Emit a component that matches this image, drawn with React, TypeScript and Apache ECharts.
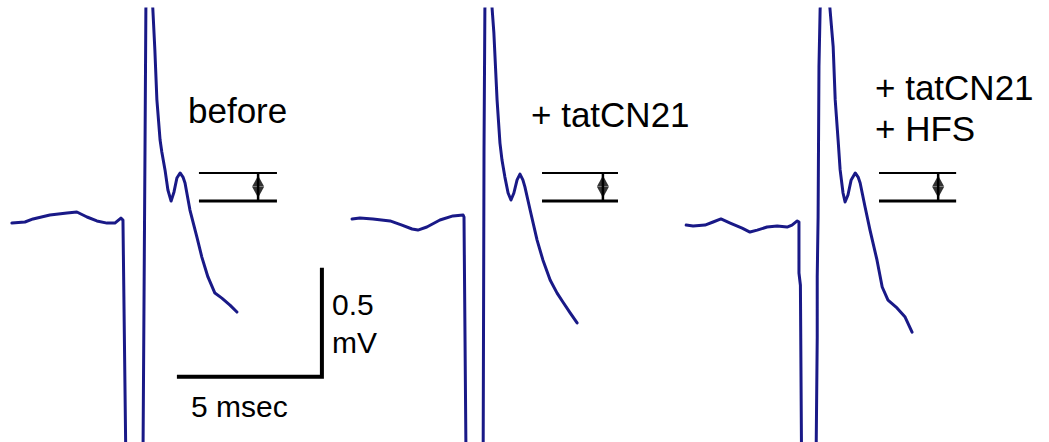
import React, { useEffect, useRef } from "react";
import * as echarts from "echarts";

// time of the stimulus artifact of each panel on the shared time axis (msec)
const STIM_MS = [4.24, 16.0, 27.52];

// traces: [msec relative to stimulus, mV relative to baseline]
const BEFORE_TRACE = [
  [-3.83, -0.005], [-3.38, 0], [-3.1, 0.014], [-2.52, 0.032], [-1.93, 0.041], [-1.59, 0.046],
  [-1.24, 0.023], [-0.9, 0.005], [-0.55, -0.005], [-0.28, -0.005], [-0.07, 0.018], [0, 0.009],
  [0.1, -1.092], [0.69, -1.092], [0.76, 0.33], [0.79, 0.977], [0.9, 1.294], [1.03, 0.977],
  [1.1, 0.789], [1.17, 0.56], [1.28, 0.376], [1.34, 0.321], [1.45, 0.239], [1.55, 0.147],
  [1.66, 0.096], [1.76, 0.138], [1.86, 0.202], [1.97, 0.225], [2.07, 0.206], [2.14, 0.179],
  [2.31, 0.055], [2.55, -0.069], [2.72, -0.161], [2.93, -0.252], [3.17, -0.326], [3.41, -0.349],
  [3.69, -0.381], [3.93, -0.413],
];
const TATCN21_TRACE = [
  [-3.86, 0.014], [-3.59, 0.018], [-3.14, 0.014], [-2.55, 0.005], [-2.14, -0.014], [-1.79, -0.032],
  [-1.59, -0.037], [-1.28, -0.023], [-0.83, 0.009], [-0.38, 0.028], [-0.03, 0.032], [0, 0.023],
  [0.07, -1.092], [0.66, -1.092], [0.69, 0.33], [0.72, 0.977], [0.83, 1.294], [0.97, 0.977],
  [1.03, 0.867], [1.14, 0.56], [1.24, 0.362], [1.31, 0.284], [1.41, 0.206], [1.52, 0.133],
  [1.62, 0.101], [1.72, 0.133], [1.83, 0.193], [1.93, 0.22], [2.03, 0.193], [2.1, 0.161],
  [2.28, 0.055], [2.52, -0.083], [2.72, -0.174], [2.97, -0.266], [3.21, -0.326], [3.41, -0.367],
  [3.66, -0.417], [3.9, -0.463],
];
const HFS_TRACE = [
  [-3.86, -0.014], [-3.62, -0.018], [-3.21, -0.014], [-2.93, 0], [-2.66, 0.014], [-2.34, -0.005],
  [-1.93, -0.028], [-1.66, -0.046], [-1.41, -0.037], [-1.07, -0.023], [-0.72, -0.018], [-0.38, -0.023],
  [-0.21, -0.014], [-0.03, 0.005], [0.03, 0], [0.03, -0.234], [0.08, -0.29], [0.12, -1.092],
  [0.62, -1.092], [0.66, -0.528], [0.66, -0.252], [0.69, 0.023], [0.72, 0.711], [0.76, 0.977],
  [0.93, 1.294], [1.1, 0.977], [1.21, 0.803], [1.28, 0.56], [1.38, 0.376], [1.45, 0.239],
  [1.55, 0.133], [1.62, 0.092], [1.72, 0.124], [1.83, 0.193], [1.97, 0.225], [2.07, 0.206],
  [2.14, 0.179], [2.31, 0.069], [2.48, -0.037], [2.72, -0.174], [2.9, -0.298], [3.1, -0.358],
  [3.41, -0.394], [3.69, -0.436], [3.93, -0.505],
];
const TRACES = [BEFORE_TRACE, TATCN21_TRACE, HFS_TRACE];

// amplitude brackets (msec relative to stimulus, mV)
const BRACKET_START_MS = [2.62, 2.69, 2.79];
const BRACKET_END_MS = [5.31, 5.31, 5.45];
const ARROW_MS = [4.66, 4.79, 4.83];
const BRACKET_TOP_MV = [0.225, 0.225, 0.225];
const BRACKET_BOTTOM_MV = [0.096, 0.096, 0.096];

// scale bar: 5 msec, 0.5 mV, corner point
const SCALE_MS = 5;
const SCALE_MV = 0.5;
const SCALE_CORNER = [11.1, -0.71];

const PANEL_LABELS = ["before", "+ tatCN21", "+ tatCN21", "+ HFS"];
const SCALE_LABELS = ["0.5", "mV", "5 msec"];

const X_MAX = 36.172;
const Y_MIN = -1.009;
const Y_MAX = 0.977;

const TRACE_COLOR = "#191987";

export default function App() {
  const ref = useRef<HTMLDivElement>(null);
  useEffect(() => {
    if (!ref.current) return;
    const chart = echarts.init(ref.current, undefined, { renderer: "svg" });
    const series: any[] = [];
    TRACES.forEach((tr, i) => {
      const off = STIM_MS[i];
      series.push({
        type: "line",
        data: tr.map(([t, v]) => [t + off, v]),
        showSymbol: false,
        silent: true,
        clip: true,
        lineStyle: { color: TRACE_COLOR, width: 3, join: "round", cap: "round" },
      });
      const x0 = BRACKET_START_MS[i] + off;
      const x1 = BRACKET_END_MS[i] + off;
      const xa = ARROW_MS[i] + off;
      const top = BRACKET_TOP_MV[i];
      const bot = BRACKET_BOTTOM_MV[i];
      series.push({
        type: "line",
        data: [[x0, top], [x1, top]],
        showSymbol: false,
        silent: true,
        lineStyle: { color: "#000", width: 2 },
      });
      series.push({
        type: "line",
        data: [[x0, bot], [x1, bot]],
        showSymbol: false,
        silent: true,
        lineStyle: { color: "#000", width: 3 },
      });
      series.push({
        type: "line",
        data: [[xa, top], [xa, bot]],
        showSymbol: false,
        silent: true,
        lineStyle: { color: "#000", width: 2.5 },
      });
      const span = top - bot;
      series.push({
        type: "scatter",
        data: [[xa, top - span * 0.29]],
        symbol: "triangle",
        symbolSize: [12, 11],
        silent: true,
        itemStyle: { color: "#000" },
      });
      series.push({
        type: "scatter",
        data: [[xa, bot + span * 0.31]],
        symbol: "triangle",
        symbolRotate: 180,
        symbolSize: [12, 11],
        silent: true,
        itemStyle: { color: "#000" },
      });
    });
    const [cx, cy] = SCALE_CORNER;
    series.push({
      type: "line",
      data: [[cx - SCALE_MS, cy], [cx, cy], [cx, cy + SCALE_MV]],
      showSymbol: false,
      silent: true,
      lineStyle: { color: "#000", width: 4, join: "miter" },
    });

    const font35 = '35px "Liberation Sans", Arial, sans-serif';
    const font30 = '30px "Liberation Sans", Arial, sans-serif';
    const txt = (text: string, x: number, y: number, font: string) => ({
      type: "text",
      x,
      y,
      silent: true,
      style: { text, font, fill: "#000", align: "left", verticalAlign: "middle" },
    });

    chart.setOption({
      animation: false,
      backgroundColor: "#fff",
      grid: { left: 0, right: 0, top: 9, bottom: 0 },
      xAxis: { type: "value", min: 0, max: X_MAX, show: false },
      yAxis: { type: "value", min: Y_MIN, max: Y_MAX, show: false },
      series,
      graphic: [
        txt(PANEL_LABELS[0], 188, 110, font35),
        txt(PANEL_LABELS[1], 531, 114, font35),
        txt(PANEL_LABELS[2], 875, 87, font35),
        txt(PANEL_LABELS[3], 875, 128, font35),
        txt(SCALE_LABELS[0], 332, 304.6, font30),
        txt(SCALE_LABELS[1], 332, 342.6, font30),
        txt(SCALE_LABELS[2], 191, 406.6, font30),
      ],
    });
    return () => chart.dispose();
  }, []);
  return (
    <div
      ref={ref}
      style={{ position: "absolute", left: 0, top: 0, width: 1049, height: 442, background: "#fff" }}
    />
  );
}
